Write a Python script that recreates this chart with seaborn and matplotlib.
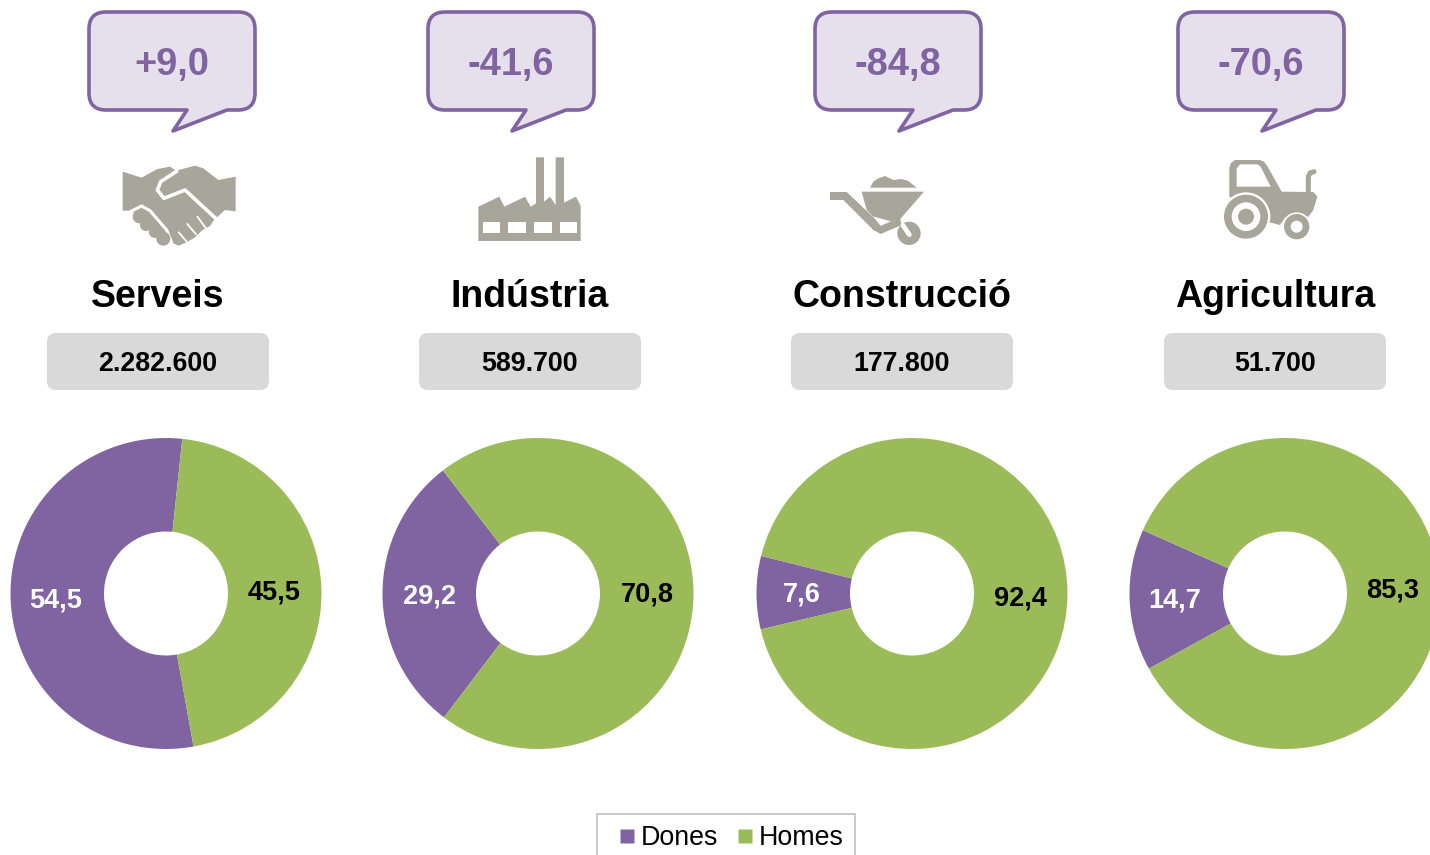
import matplotlib
matplotlib.use('Agg')
import matplotlib.pyplot as plt
import seaborn as sns
from matplotlib.lines import Line2D
from matplotlib.patches import Circle, FancyBboxPatch, PathPatch, Polygon
from matplotlib.path import Path

W, H = 1430, 855

sectors = ['Serveis', 'Indústria', 'Construcció', 'Agricultura']
totals = ['2.282.600', '589.700', '177.800', '51.700']
changes = ['+9,0', '-41,6', '-84,8', '-70,6']
dones = [54.5, 29.2, 7.6, 14.7]
homes = [45.5, 70.8, 92.4, 85.3]
series_names = ['Dones', 'Homes']

PURPLE = '#8064A2'
GREEN = '#9BBB59'
LILAC = '#E6E0EC'
GREY = '#D9D9D9'
ICON = '#A8A59A'

# layout, in pixels of the reference
bubble_left = [89, 428, 815, 1178]
title_x = [158, 530, 902, 1275]
donut_x = [166, 538, 912, 1285]
start_angles = [84, 127.7, 166, 156]
dones_label_pos = [(56, 598), (429, 595), (802, 593), (1175, 599)]
homes_label_pos = [(274, 591), (647, 593), (1020, 596), (1393, 589)]


def Y(py):
    return H - py


def Bubble(ax, left):
    """Speech bubble with a rounded outline and a tail pointing down."""
    l, r, t, b, c = left, left + 166, Y(12), Y(110), 17
    verts = [(l + c, t), (r - c, t), (r, t), (r, t - c), (r, b + c), (r, b), (r - c, b),
             (l + 138, b), (l + 84, Y(131)), (l + 98, b), (l + c, b), (l, b), (l, b + c),
             (l, t - c), (l, t), (l + c, t), (l + c, t)]
    codes = [Path.MOVETO, Path.LINETO, Path.CURVE3, Path.CURVE3, Path.LINETO, Path.CURVE3, Path.CURVE3,
             Path.LINETO, Path.LINETO, Path.LINETO, Path.LINETO, Path.CURVE3, Path.CURVE3,
             Path.LINETO, Path.CURVE3, Path.CURVE3, Path.CLOSEPOLY]
    ax.add_patch(PathPatch(Path(verts, codes), fc=LILAC, ec=PURPLE, lw=2.6, joinstyle='round'))


def Shape(ax, pts, ox, oy, color=ICON, z=3):
    ax.add_patch(Polygon([(ox + x / 3, Y(oy + y / 3)) for x, y in pts], closed=True, fc=color, ec='none', zorder=z))


def Stroke(ax, pts, ox, oy, color='white', lw=2.0, z=4, cap='round'):
    ax.plot([ox + x / 3 for x, y in pts], [Y(oy + y / 3) for x, y in pts], color=color, lw=lw,
            solid_capstyle=cap, solid_joinstyle='round', zorder=z)


def Disc(ax, x, y, r, ox, oy, color=ICON, z=3):
    ax.add_patch(Circle((ox + x / 3, Y(oy + y / 3)), r / 3, fc=color, ec='none', zorder=z))


def Handshake(ax):
    ox, oy = 70, 0
    Shape(ax, [(158, 515), (215, 533), (262, 507), (300, 500), (318, 512), (375, 497), (400, 505),
               (445, 540), (497, 530), (497, 634), (465, 630), (432, 660), (420, 678), (395, 692),
               (375, 712), (350, 727), (325, 737), (300, 725), (230, 680), (185, 632), (158, 632)], ox, oy)
    Stroke(ax, [(320, 514), (272, 545), (262, 570), (282, 595), (345, 570), (437, 655)], ox, oy, lw=2.6)
    Stroke(ax, [(183, 634), (215, 618), (240, 632), (290, 690), (305, 728)], ox, oy, lw=2.2)
    for x, y, r in [(208, 650, 20), (228, 675, 18), (255, 695, 19), (280, 716, 21)]:
        Disc(ax, x, y, r, ox, oy, z=5)
    for a, b in [((382, 650), (408, 685)), ((352, 672), (378, 703)), ((326, 697), (350, 725))]:
        Stroke(ax, [a, b], ox, oy, lw=1.3)


def Factory(ax):
    ox, oy = 460, 140
    Shape(ax, [(55, 200), (118, 170), (133, 200), (195, 170), (212, 200), (228, 190), (228, 52), (252, 52),
               (252, 185), (270, 170), (287, 195), (287, 52), (312, 52), (312, 188), (348, 170), (362, 197),
               (362, 303), (55, 303)], ox, oy)
    for x0 in [68, 145, 222, 299]:
        Shape(ax, [(x0, 246), (x0 + 53, 246), (x0 + 53, 278), (x0, 278)], ox, oy, color='white', z=4)


def Wheelbarrow(ax):
    ox, oy = 810, 150
    Shape(ax, [(155, 125), (342, 125), (270, 208), (240, 215), (190, 200), (170, 180)], ox, oy)
    Shape(ax, [(180, 113), (190, 95), (205, 85), (225, 78), (250, 90), (275, 87), (295, 93), (320, 113)], ox, oy)
    Shape(ax, [(60, 126), (110, 126), (215, 225), (270, 205), (275, 225), (212, 252), (190, 240), (100, 150), (60, 150)], ox, oy)
    Shape(ax, [(190, 200), (240, 213), (212, 228)], ox, oy, color='white', z=4)
    Disc(ax, 297, 250, 35, ox, oy)
    Stroke(ax, [(279, 226), (298, 254)], ox, oy, lw=3.4)


def Tractor(ax):
    ox, oy = 1200, 145
    Shape(ax, [(88, 155), (88, 70), (92, 55), (105, 45), (180, 45), (192, 50), (203, 65), (245, 140), (340, 141),
               (352, 155), (340, 195), (325, 215), (255, 218), (240, 240), (200, 230)], ox, oy)
    Shape(ax, [(110, 125), (110, 70), (120, 58), (172, 58), (182, 65), (212, 125)], ox, oy, color='white', z=4)
    Stroke(ax, [(325, 145), (325, 95), (330, 84), (342, 80)], ox, oy, color=ICON, lw=3.6, z=3)
    Disc(ax, 138, 215, 73, ox, oy, color='white', z=4)
    Disc(ax, 138, 215, 66, ox, oy, z=5)
    Disc(ax, 138, 215, 43, ox, oy, color='white', z=6)
    Disc(ax, 138, 215, 24, ox, oy, z=7)
    Disc(ax, 290, 245, 43, ox, oy, color='white', z=4)
    Disc(ax, 290, 245, 38, ox, oy, z=5)
    Disc(ax, 290, 245, 18, ox, oy, color='white', z=6)


def main():
    sns.set_theme(style='white')
    plt.rcParams['font.family'] = ['Liberation Sans', 'DejaVu Sans']
    palette = sns.color_palette([PURPLE, GREEN])

    fig = plt.figure(figsize=(W / 100, H / 100), dpi=100)
    ax = fig.add_axes([0, 0, 1, 1])

    for i in range(4):
        ax.pie([dones[i], homes[i]], colors=palette, startangle=start_angles[i],
               center=(donut_x[i], Y(593.5)), radius=155.5,
               wedgeprops={'width': 93.5, 'linewidth': 0})
        Bubble(ax, bubble_left[i])
        ax.text(bubble_left[i] + 83, Y(65), changes[i], color=PURPLE, fontsize=27.4, fontweight='bold',
                ha='center', va='center')
        ax.text(title_x[i], Y(297), sectors[i], color='black', fontsize=27, fontweight='bold',
                ha='center', va='center')
        ax.add_patch(FancyBboxPatch((title_x[i] - 103, Y(382)), 206, 41, boxstyle='round,pad=8,rounding_size=9',
                                    fc=GREY, ec='none'))
        ax.text(title_x[i], Y(364), totals[i], color='black', fontsize=19.3, fontweight='bold',
                ha='center', va='center')
        x, y = dones_label_pos[i]
        ax.text(x, Y(y + 2), f'{dones[i]:.1f}'.replace('.', ','), color='white', fontsize=19.5, fontweight='bold',
                ha='center', va='center')
        x, y = homes_label_pos[i]
        ax.text(x, Y(y + 2), f'{homes[i]:.1f}'.replace('.', ','), color='black', fontsize=19.5, fontweight='bold',
                ha='center', va='center')

    Handshake(ax)
    Factory(ax)
    Wheelbarrow(ax)
    Tractor(ax)

    ax.set_xlim(0, W)
    ax.set_ylim(0, H)
    ax.set_aspect('equal')
    ax.set_axis_off()

    handles = [Line2D([], [], linestyle='none', marker='s', markersize=10, markerfacecolor=c,
                      markeredgecolor='none') for c in palette]
    leg = ax.legend(handles, series_names, ncol=2, loc='upper center', bbox_to_anchor=(726, Y(814)),
                    bbox_transform=ax.transData, borderaxespad=0, fontsize=19.3, frameon=True, fancybox=False,
                    edgecolor='#C8C8C8', framealpha=1, handlelength=1.4, handletextpad=-0.2,
                    columnspacing=0.3, borderpad=0.42, labelcolor='black')
    leg.get_frame().set_linewidth(1.4)

    plt.savefig('out.png', dpi=100)


if __name__ == '__main__':
    main()
